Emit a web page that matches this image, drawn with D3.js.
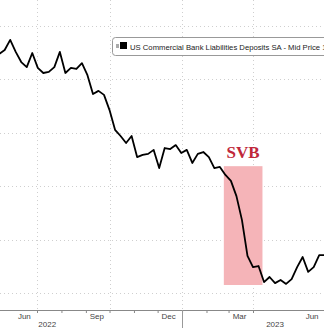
<!DOCTYPE html>
<html>
<head>
<meta charset="utf-8">
<script src="https://cdn.jsdelivr.net/npm/d3@7"></script>
<style>
  body { margin: 0; background: #fff; }
  svg { display: block; }
</style>
</head>
<body>
<div id="chart"></div>
<script>
// weekly H.8 deposits, trillions USD
const START = new Date(2022, 4, 14)
const deposits = [
  18.095, 18.110, 18.148, 18.103, 18.065, 18.046, 18.099, 18.043, 18.024, 18.028,
  18.046, 18.103, 18.024, 18.043, 18.039, 18.061, 18.016, 17.945, 17.957, 17.942,
  17.885, 17.811, 17.788, 17.762, 17.788, 17.709, 17.717, 17.721, 17.736, 17.668,
  17.743, 17.739, 17.754, 17.724, 17.736, 17.687, 17.721, 17.728, 17.709, 17.668,
  17.672, 17.642, 17.620, 17.563, 17.473, 17.339, 17.297, 17.301, 17.241, 17.260,
  17.237, 17.249, 17.234, 17.252, 17.297, 17.335, 17.279, 17.297, 17.342, 17.342
]
const yTicks = [17.2, 17.4, 17.6, 17.8, 18.0, 18.2]
const gridDates = [new Date(2022, 6, 1), new Date(2022, 9, 1), new Date(2023, 0, 1), new Date(2023, 3, 1)]
const monthLabels = ["Jun", "Sep", "Dec", "Mar", "Jun"]
const monthLabelDates = [new Date(2022, 5, 15), new Date(2022, 8, 15), new Date(2022, 11, 15), new Date(2023, 2, 15), new Date(2023, 5, 15)]
const yearLabels = ["2022", "2023"]
const yearLabelDates = [new Date(2022, 6, 14), new Date(2023, 3, 29)]
const svbRange = [new Date(2023, 1, 23), new Date(2023, 3, 13)]
const svbBox = [17.23, 17.675]
const legendText = "US Commercial Bank Liabilities Deposits SA - Mid Price 17"

const data = deposits.map((v, i) => ({ date: d3.timeDay.offset(START, 7 * i), value: v }))

const W = 324, H = 328
const AXIS_Y = 310

const svg = d3.select("#chart").append("svg")
  .attr("width", W)
  .attr("height", H)

const x = d3.scaleTime()
  .domain([new Date(2022, 6, 1), new Date(2023, 3, 1)])
  .range([37, 253])

const y = d3.scaleLinear()
  .domain([17.2, 18.2])
  .range([293, 26])

// horizontal grid
svg.append("g")
  .selectAll("line")
  .data(yTicks)
  .enter().append("line")
    .attr("x1", 0)
    .attr("x2", W)
    .attr("y1", d => Math.round(y(d)) + 0.5)
    .attr("y2", d => Math.round(y(d)) + 0.5)
    .attr("stroke", "#cfcfcf")
    .attr("stroke-width", 1)
    .attr("stroke-dasharray", "1,3")

// vertical grid
svg.append("g")
  .selectAll("line")
  .data(gridDates)
  .enter().append("line")
    .attr("x1", d => Math.round(x(d)) + 0.5)
    .attr("x2", d => Math.round(x(d)) + 0.5)
    .attr("y1", 0)
    .attr("y2", AXIS_Y)
    .attr("stroke", "#cfcfcf")
    .attr("stroke-width", 1)
    .attr("stroke-dasharray", "1,3")

// SVB shading
svg.append("rect")
  .attr("x", x(svbRange[0]))
  .attr("width", x(svbRange[1]) - x(svbRange[0]))
  .attr("y", y(svbBox[1]))
  .attr("height", y(svbBox[0]) - y(svbBox[1]))
  .attr("fill", "#f5b4b8")

svg.append("text")
  .attr("x", (x(svbRange[0]) + x(svbRange[1])) / 2)
  .attr("y", y(svbBox[1]) - 8)
  .attr("text-anchor", "middle")
  .attr("font-family", "Liberation Serif")
  .attr("font-weight", "bold")
  .attr("font-size", "17px")
  .attr("fill", "#c0283a")
  .text("SVB")

// line
const line = d3.line()
  .x(d => x(d.date))
  .y(d => y(d.value))

svg.append("path")
  .datum(data)
  .attr("fill", "none")
  .attr("stroke", "#000")
  .attr("stroke-width", 1.8)
  .attr("stroke-linejoin", "round")
  .attr("d", line)

// x axis
const xAxis = d3.axisBottom(x)
  .ticks(d3.timeMonth.every(1))
  .tickSize(3)
  .tickFormat("")
const gx = svg.append("g")
  .attr("transform", `translate(0, ${AXIS_Y})`)
  .call(xAxis)
gx.select(".domain").attr("stroke", "#888").attr("d", `M0,0.5H${W}`)
gx.selectAll(".tick line").attr("stroke", "#888")

// year separator
svg.append("line")
  .attr("x1", Math.round(x(new Date(2023, 0, 1))) + 0.5)
  .attr("x2", Math.round(x(new Date(2023, 0, 1))) + 0.5)
  .attr("y1", AXIS_Y)
  .attr("y2", H)
  .attr("stroke", "#999")

svg.append("g")
  .selectAll("text")
  .data(monthLabels)
  .enter().append("text")
    .attr("x", (d, i) => x(monthLabelDates[i]))
    .attr("y", 319)
    .attr("text-anchor", "middle")
    .attr("font-family", "Liberation Sans")
    .attr("font-size", "8px")
    .attr("fill", "#444")
    .text(d => d)

svg.append("g")
  .selectAll("text")
  .data(yearLabels)
  .enter().append("text")
    .attr("x", (d, i) => x(yearLabelDates[i]))
    .attr("y", 327)
    .attr("text-anchor", "middle")
    .attr("font-family", "Liberation Sans")
    .attr("font-size", "8px")
    .attr("fill", "#444")
    .text(d => d)

// legend (cut by the right edge, as in the picture)
const lg = svg.append("g").attr("transform", "translate(112, 37)")
lg.append("rect")
  .attr("x", 0.5)
  .attr("y", 0.5)
  .attr("width", 240)
  .attr("height", 18)
  .attr("rx", 3)
  .attr("fill", "#fff")
  .attr("stroke", "#999")
lg.append("rect")
  .attr("x", 4).attr("y", 7).attr("width", 3).attr("height", 4)
  .attr("fill", "#aaa")
lg.append("rect")
  .attr("x", 8).attr("y", 5).attr("width", 7).attr("height", 7)
  .attr("fill", "#000")
lg.append("text")
  .attr("x", 18)
  .attr("y", 12.5)
  .attr("font-family", "Liberation Sans")
  .attr("font-size", "7.7px")
  .attr("fill", "#222")
  .text(legendText)
</script>
</body>
</html>
